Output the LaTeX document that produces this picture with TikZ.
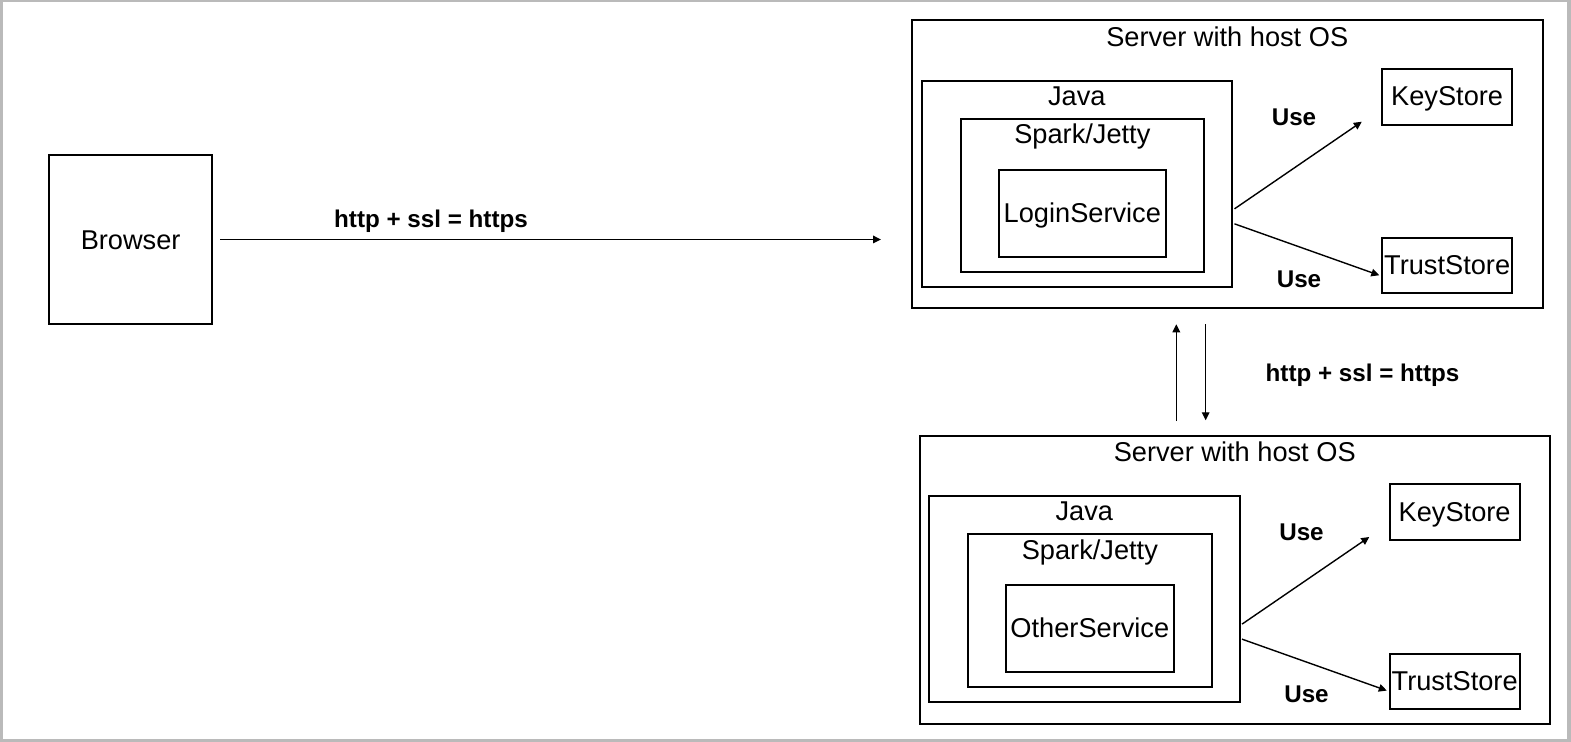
\documentclass[tikz,border=0pt]{standalone}
\usepackage{fontspec}
\setmainfont{Liberation Sans}
\usetikzlibrary{calc,arrows.meta,fit,positioning}
\tikzset{
  box/.style={draw,line width=1pt,inner sep=0pt},
  lbl/.style={anchor=base,inner sep=0pt,font=\fontsize{13.6}{16}\selectfont},
  blbl/.style={anchor=base,inner sep=0pt,font=\fontsize{12.1}{14}\bfseries\selectfont},
  arr/.style={line width=0.7pt,-{Triangle[length=4pt,width=3.8pt]}}
}
\begin{document}
\begin{tikzpicture}[x=0.5pt,y=-0.5pt]
        \fill[black!27] (0,0) rectangle (1571,742);
        \fill[white] (2.5,2.5) rectangle (1567,739);
        \node[box,fit={(49.3,155)(212,324)}] (brw) {};
        \node[lbl] (brwt) at ($(brw.center)+(0,10)$) {Browser};
        \foreach \dx/\dy/\id/\svc in {0/0/a/LoginService,7.5/415.3/b/OtherService}
            {
                \coordinate (o) at (\dx,\dy);
                \node[box,fit={($(o)+(912,20.5)$)($(o)+(1542.5,308.3)$)}] (srv\id) {};
                \node[box,fit={($(o)+(921.7,80.7)$)($(o)+(1232,287)$)}] (java\id) {};
                \node[box,fit={($(o)+(960.7,118.7)$)($(o)+(1204,272)$)}] (spark\id) {};
                \node[box,fit={($(o)+(998.7,170)$)($(o)+(1166,257)$)}] (svc\id) {};
                \node[box,fit={($(o)+(1382.3,69)$)($(o)+(1512,125)$)}] (ks\id) {};
                \node[box,fit={($(o)+(1382.3,238.3)$)($(o)+(1512,293.3)$)}] (ts\id) {};
                \node[lbl] (srvt\id) at ($(srv\id.north)+(0,26.7)$) {Server with host OS};
                \node[lbl] (javat\id) at ($(java\id.north)+(0,26)$) {Java};
                \node[lbl] (sparkt\id) at ($(spark\id.north)+(0,26.3)$) {Spark/Jetty};
                \node[lbl] (svct\id) at ($(svc\id.center)+(0,8.6)$) {\svc};
                \node[lbl] (kst\id) at ($(ks\id.center)+(0,9)$) {KeyStore};
                \node[lbl] (tst\id) at ($(ts\id.center)+(0,9.2)$) {TrustStore};
                \draw[arr] ($(java\id.east)+(1.5,25)$)--($(ks\id.south west)+(-19.5,-4.3)$);
                \draw[arr] ($(java\id.east)+(1.5,40)$)--($(ts\id.west)+(-2,9.5)$);
                \node[blbl] (usek\id) at ($(o)+(1294,125.7)$) {Use};
                \node[blbl] (uset\id) at ($(o)+(1299,287.3)$) {Use};
            }
        \draw[arr] ($(brw.east)+(7,0)$)--($(brw.east -| srva.west)+(-30,0)$);
        \node[blbl] (https1) at (431,227.3) {http + ssl = https};
        \coordinate (upx) at (1176.3,0);
        \coordinate (dnx) at (1205.7,0);
        \draw[arr] ($(srvb.north -| upx)+(0,-13.6)$)--($(srva.south -| upx)+(0,15)$);
        \draw[arr] ($(srva.south -| dnx)+(0,15)$)--($(srvb.north -| dnx)+(0,-14.5)$);
        \node[blbl] (https2) at (1362.5,381.7) {http + ssl = https};
    \end{tikzpicture}
\end{document}
